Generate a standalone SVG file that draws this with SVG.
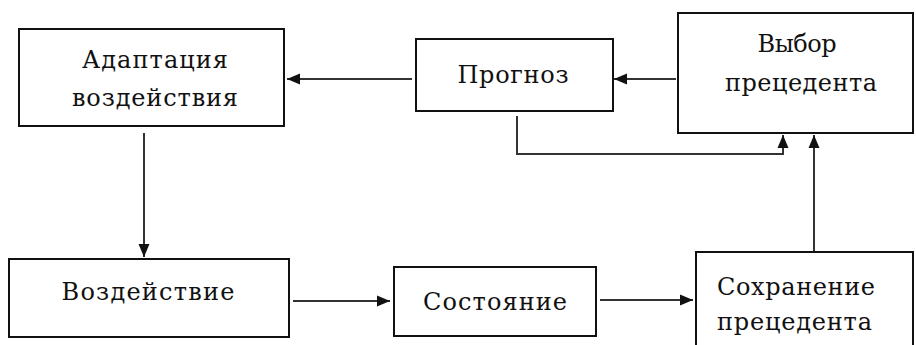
<svg xmlns="http://www.w3.org/2000/svg" width="916" height="345" viewBox="0 0 916 345">
<defs>
<style>
.box{fill:#fff;stroke:#111;stroke-width:2}
.t{font-family:'DejaVu Serif','Liberation Serif',serif;font-size:24px;fill:#111}
.c{fill:none;stroke:#333;stroke-width:2}
</style>
<marker id="ah" markerUnits="userSpaceOnUse" markerWidth="14" markerHeight="12" refX="13" refY="6" orient="auto">
<path d="M0,0.5 L13,6 L0,11.5 z" fill="#111"/>
</marker>
</defs>
<rect width="916" height="345" fill="#fff"/>
<g id="connectors">
<line class="c" x1="412" y1="79" x2="287" y2="79" marker-end="url(#ah)"/>
<line class="c" x1="676" y1="79" x2="614" y2="79" marker-end="url(#ah)"/>
<line class="c" x1="144" y1="133" x2="144" y2="257" marker-end="url(#ah)"/>
<line class="c" x1="293" y1="301" x2="390" y2="301" marker-end="url(#ah)"/>
<line class="c" x1="600" y1="300" x2="693" y2="300" marker-end="url(#ah)"/>
<path class="c" d="M517,116 V154 H783 V135" marker-end="url(#ah)"/>
<line class="c" x1="814" y1="252" x2="814" y2="135" marker-end="url(#ah)"/>
</g>
<g id="adaptation">
<rect class="box" x="19" y="29" width="265" height="97"/>
<text class="t" x="155" y="68" text-anchor="middle" textLength="146" lengthAdjust="spacing">Адаптация</text>
<text class="t" x="155" y="106" text-anchor="middle" textLength="166" lengthAdjust="spacing">воздействия</text>
</g>
<g id="forecast">
<rect class="box" x="416" y="39" width="197" height="72"/>
<text class="t" x="513" y="83" text-anchor="middle" textLength="111" lengthAdjust="spacing">Прогноз</text>
</g>
<g id="choice">
<rect class="box" x="678" y="13" width="235" height="120"/>
<text class="t" x="797" y="52" text-anchor="middle" textLength="79" lengthAdjust="spacing">Выбор</text>
<text class="t" x="801" y="91" text-anchor="middle" textLength="152" lengthAdjust="spacing">прецедента</text>
</g>
<g id="action">
<rect class="box" x="9" y="259" width="280" height="78"/>
<text class="t" x="148" y="300" text-anchor="middle" textLength="173" lengthAdjust="spacing">Воздействие</text>
</g>
<g id="state">
<rect class="box" x="394" y="267" width="202" height="69"/>
<text class="t" x="495" y="310" text-anchor="middle" textLength="144" lengthAdjust="spacing">Состояние</text>
</g>
<g id="save">
<rect class="box" x="696" y="252" width="217" height="100"/>
<text class="t" x="717" y="295" textLength="158" lengthAdjust="spacing">Сохранение</text>
<text class="t" x="717" y="330" textLength="155" lengthAdjust="spacing">прецедента</text>
</g>
</svg>
